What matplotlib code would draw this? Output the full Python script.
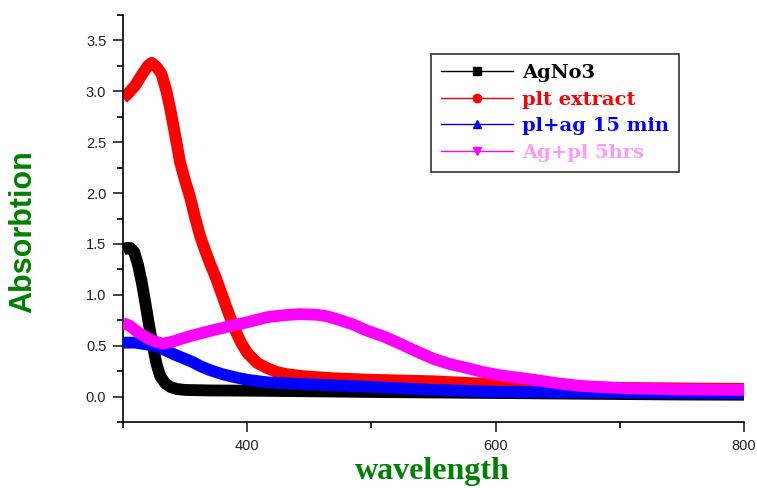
import matplotlib
matplotlib.use("Agg")
import matplotlib.pyplot as plt
from matplotlib.ticker import FixedLocator

# ---- data ----
agno3_x = [300, 303, 306, 309, 312, 315, 318, 321, 324, 327, 330, 334, 338, 343, 350,
           370, 400, 450, 500, 550, 600, 650, 700, 750, 800]
agno3_y = [1.44, 1.46, 1.46, 1.42, 1.30, 1.13, 0.92, 0.70, 0.50, 0.32, 0.20, 0.13, 0.095,
           0.075, 0.065, 0.06, 0.058, 0.052, 0.045, 0.04, 0.035, 0.03, 0.025, 0.02, 0.018]

plt_x = [300, 305, 310, 315, 320, 323, 327, 331, 335, 338, 342, 346, 350, 354, 358, 362,
         366, 370, 375, 380, 385, 390, 395, 400, 408, 416, 424, 432, 445, 469, 500, 550,
         600, 650, 700, 750, 800]
plt_y = [2.93, 2.99, 3.06, 3.16, 3.25, 3.28, 3.24, 3.17, 3.00, 2.83, 2.57, 2.30, 2.12,
         1.96, 1.76, 1.58, 1.44, 1.31, 1.16, 0.99, 0.82, 0.66, 0.53, 0.43, 0.33, 0.28,
         0.24, 0.22, 0.20, 0.18, 0.165, 0.15, 0.12, 0.095, 0.085, 0.08, 0.075]

pl15_x = [300, 310, 320, 328, 335, 342, 350, 356, 362, 370, 380, 390, 400, 416, 440,
          469, 500, 550, 600, 650, 700, 750, 800]
pl15_y = [0.53, 0.53, 0.51, 0.49, 0.45, 0.41, 0.37, 0.34, 0.30, 0.26, 0.22, 0.19, 0.165,
          0.14, 0.125, 0.11, 0.095, 0.065, 0.048, 0.043, 0.04, 0.035, 0.032]

ag5_x = [300, 305, 310, 315, 320, 326, 332, 340, 350, 362, 375, 389, 400, 416, 430, 442,
         455, 464, 475, 485, 496, 510, 523, 537, 550, 563, 577, 590, 603, 628, 650, 668,
         690, 708, 750, 800]
ag5_y = [0.72, 0.70, 0.65, 0.61, 0.57, 0.54, 0.52, 0.54, 0.58, 0.62, 0.66, 0.70, 0.73,
         0.78, 0.80, 0.81, 0.805, 0.79, 0.75, 0.71, 0.65, 0.59, 0.52, 0.44, 0.37, 0.32,
         0.28, 0.24, 0.21, 0.17, 0.13, 0.105, 0.09, 0.08, 0.07, 0.065]

labels = ["AgNo3", "plt extract", "pl+ag 15 min", "Ag+pl 5hrs"]
line_colors = ["black", "red", "blue", "magenta"]
text_colors = ["black", "red", "blue", "#ff99ff"]
markers = ["s", "o", "^", "v"]

xticks_major = [400, 600, 800]
xticks_minor = [300, 500, 700]
yticks_major = [0.0, 0.5, 1.0, 1.5, 2.0, 2.5, 3.0, 3.5]

# ---- figure ----
W, H = 757, 488
fig = plt.figure(figsize=(W / 100, H / 100), dpi=100)
ax = fig.add_axes([123 / W, (H - 422) / H, 621 / W, 407 / H])

series = [(agno3_x, agno3_y), (plt_x, plt_y), (pl15_x, pl15_y), (ag5_x, ag5_y)]
zorders = [2, 2, 3, 4]
for (xs, ys), c, z in zip(series, line_colors, zorders):
    ax.plot(xs, ys, color=c, lw=8.5, solid_capstyle="butt", solid_joinstyle="round",
            zorder=z)

ax.set_xlim(300, 800)
ax.set_ylim(-0.25, 3.75)

for s in ["top", "right"]:
    ax.spines[s].set_visible(False)
for s in ["left", "bottom"]:
    ax.spines[s].set_linewidth(1.2)

ax.xaxis.set_major_locator(FixedLocator(xticks_major))
ax.xaxis.set_minor_locator(FixedLocator(xticks_minor))
ax.yaxis.set_major_locator(FixedLocator(yticks_major))
ax.yaxis.set_minor_locator(FixedLocator([-0.25 + 0.5 * i for i in range(9)]))
ax.set_yticklabels([f"{v:.1f}" for v in yticks_major])
ax.set_xticklabels([str(v) for v in xticks_major])

ax.tick_params(which="major", direction="out", length=7, width=1.2, labelsize=10.5,
               colors="#222222", pad=5)
ax.tick_params(which="minor", direction="out", length=4.5, width=1.2)
for lab in ax.get_xticklabels() + ax.get_yticklabels():
    lab.set_family("Liberation Sans")

ax.set_ylabel("Absorbtion", color="#008000", fontsize=22, fontweight="bold",
              family="Liberation Sans")
ax.yaxis.set_label_coords(-0.136, 0.467)
ax.set_xlabel("wavelength", color="#008000", fontsize=23, fontweight="bold",
              family="Liberation Serif")
ax.xaxis.set_label_coords(0.498, -0.086)

# legend
handles = [plt.Line2D([], [], color=c, lw=1, marker=m, markersize=6)
           for c, m in zip(line_colors, markers)]
leg = ax.legend(handles, labels, loc="upper left", bbox_to_anchor=(0.496, 0.904),
                frameon=True, fancybox=False, edgecolor="#333333", framealpha=1,
                prop={"family": "DejaVu Serif", "weight": "bold", "size": 14},
                handlelength=3.7, handletextpad=0.5, labelspacing=0.45,
                borderpad=0.5, borderaxespad=0)
leg.get_frame().set_linewidth(1.2)
for t, c in zip(leg.get_texts(), text_colors):
    t.set_color(c)

fig.savefig("out.png", dpi=100)
